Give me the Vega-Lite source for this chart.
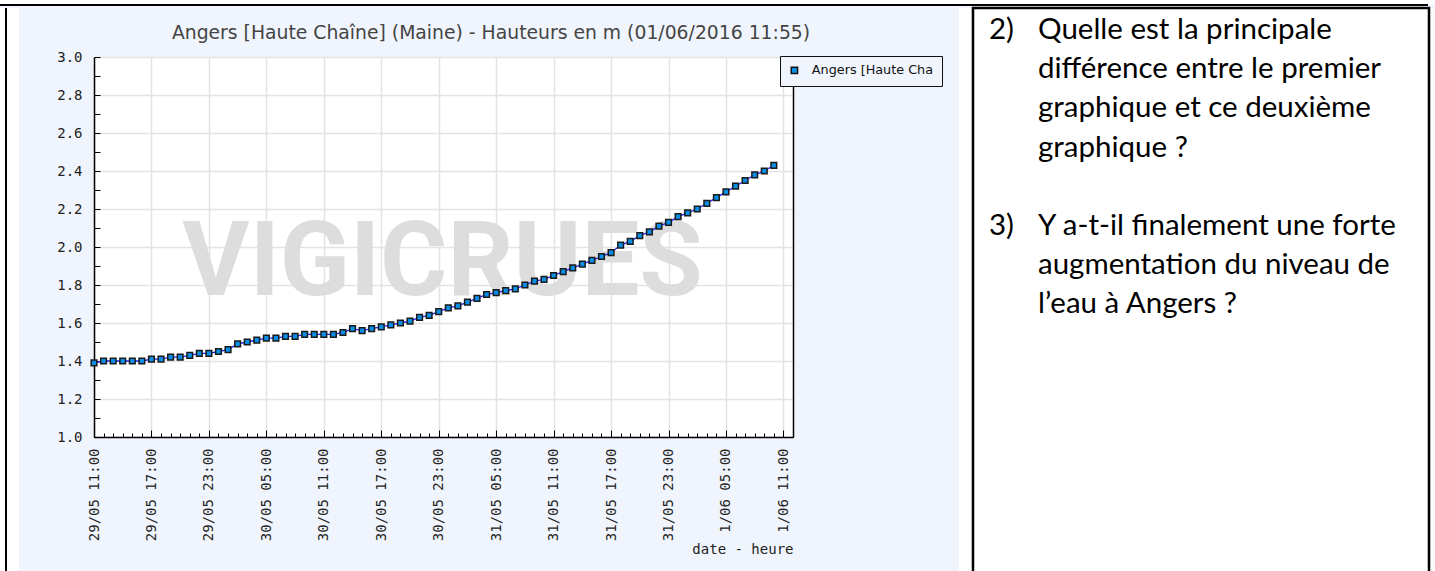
{
  "$schema": "https://vega.github.io/schema/vega-lite/v6.json",
  "padding": 0,
  "background": "#F0F5FD",
  "spacing": 0,
  "config": {"view": {"stroke": null}},
  "vconcat": [
    {"width": 1435, "height": 4, "data": {"values": []}, "mark": "text", "encoding": {}, "view": {"fill": "#ffffff", "stroke": null}},
    {"width": 1428, "height": 2, "data": {"values": []}, "mark": "text", "encoding": {}, "view": {"fill": "#000000", "stroke": null}},
    {
      "spacing": 0,
      "hconcat": [
        {"width": 5, "height": 565, "data": {"values": []}, "mark": "text", "encoding": {}, "view": {"fill": "#ffffff", "stroke": null}},
        {"width": 2, "height": 565, "data": {"values": []}, "mark": "text", "encoding": {}, "view": {"fill": "#000000", "stroke": null}},
        {"width": 12, "height": 565, "data": {"values": []}, "mark": "text", "encoding": {}, "view": {"fill": "#ffffff", "stroke": null}},
        {
          "spacing": 0,
          "vconcat": [
            {
              "width": 794, "height": 42,
              "data": {"values": [{}]},
              "view": {"stroke": null},
              "mark": {"type": "text", "font": "DejaVu Sans", "fontSize": 18.8, "color": "#444444", "align": "center", "baseline": "middle", "dy": 4},
              "encoding": {"text": {"value": "Angers [Haute Chaîne] (Maine) - Hauteurs en m (01/06/2016 11:55)"}}
            },
            {
              "width": 699,
              "height": 380,
              "view": {"fill": "#ffffff", "stroke": null},
              "data": {"values": [
                {"t": "2016-05-29T11:00:00Z", "h": 1.39}, {"t": "2016-05-29T12:00:00Z", "h": 1.40}, {"t": "2016-05-29T13:00:00Z", "h": 1.40},
                {"t": "2016-05-29T14:00:00Z", "h": 1.40}, {"t": "2016-05-29T15:00:00Z", "h": 1.40}, {"t": "2016-05-29T16:00:00Z", "h": 1.40},
                {"t": "2016-05-29T17:00:00Z", "h": 1.41}, {"t": "2016-05-29T18:00:00Z", "h": 1.41}, {"t": "2016-05-29T19:00:00Z", "h": 1.42},
                {"t": "2016-05-29T20:00:00Z", "h": 1.42}, {"t": "2016-05-29T21:00:00Z", "h": 1.43}, {"t": "2016-05-29T22:00:00Z", "h": 1.44},
                {"t": "2016-05-29T23:00:00Z", "h": 1.44}, {"t": "2016-05-30T00:00:00Z", "h": 1.45}, {"t": "2016-05-30T01:00:00Z", "h": 1.46},
                {"t": "2016-05-30T02:00:00Z", "h": 1.49}, {"t": "2016-05-30T03:00:00Z", "h": 1.50}, {"t": "2016-05-30T04:00:00Z", "h": 1.51},
                {"t": "2016-05-30T05:00:00Z", "h": 1.52}, {"t": "2016-05-30T06:00:00Z", "h": 1.52}, {"t": "2016-05-30T07:00:00Z", "h": 1.53},
                {"t": "2016-05-30T08:00:00Z", "h": 1.53}, {"t": "2016-05-30T09:00:00Z", "h": 1.54}, {"t": "2016-05-30T10:00:00Z", "h": 1.54},
                {"t": "2016-05-30T11:00:00Z", "h": 1.54}, {"t": "2016-05-30T12:00:00Z", "h": 1.54}, {"t": "2016-05-30T13:00:00Z", "h": 1.55},
                {"t": "2016-05-30T14:00:00Z", "h": 1.57}, {"t": "2016-05-30T15:00:00Z", "h": 1.56}, {"t": "2016-05-30T16:00:00Z", "h": 1.57},
                {"t": "2016-05-30T17:00:00Z", "h": 1.58}, {"t": "2016-05-30T18:00:00Z", "h": 1.59}, {"t": "2016-05-30T19:00:00Z", "h": 1.60},
                {"t": "2016-05-30T20:00:00Z", "h": 1.61}, {"t": "2016-05-30T21:00:00Z", "h": 1.63}, {"t": "2016-05-30T22:00:00Z", "h": 1.64},
                {"t": "2016-05-30T23:00:00Z", "h": 1.66}, {"t": "2016-05-31T00:00:00Z", "h": 1.68}, {"t": "2016-05-31T01:00:00Z", "h": 1.69},
                {"t": "2016-05-31T02:00:00Z", "h": 1.71}, {"t": "2016-05-31T03:00:00Z", "h": 1.73}, {"t": "2016-05-31T04:00:00Z", "h": 1.75},
                {"t": "2016-05-31T05:00:00Z", "h": 1.76}, {"t": "2016-05-31T06:00:00Z", "h": 1.77}, {"t": "2016-05-31T07:00:00Z", "h": 1.78},
                {"t": "2016-05-31T08:00:00Z", "h": 1.80}, {"t": "2016-05-31T09:00:00Z", "h": 1.82}, {"t": "2016-05-31T10:00:00Z", "h": 1.83},
                {"t": "2016-05-31T11:00:00Z", "h": 1.85}, {"t": "2016-05-31T12:00:00Z", "h": 1.87}, {"t": "2016-05-31T13:00:00Z", "h": 1.89},
                {"t": "2016-05-31T14:00:00Z", "h": 1.91}, {"t": "2016-05-31T15:00:00Z", "h": 1.93}, {"t": "2016-05-31T16:00:00Z", "h": 1.95},
                {"t": "2016-05-31T17:00:00Z", "h": 1.97}, {"t": "2016-05-31T18:00:00Z", "h": 2.01}, {"t": "2016-05-31T19:00:00Z", "h": 2.03},
                {"t": "2016-05-31T20:00:00Z", "h": 2.06}, {"t": "2016-05-31T21:00:00Z", "h": 2.08}, {"t": "2016-05-31T22:00:00Z", "h": 2.11},
                {"t": "2016-05-31T23:00:00Z", "h": 2.13}, {"t": "2016-06-01T00:00:00Z", "h": 2.16}, {"t": "2016-06-01T01:00:00Z", "h": 2.18},
                {"t": "2016-06-01T02:00:00Z", "h": 2.20}, {"t": "2016-06-01T03:00:00Z", "h": 2.23}, {"t": "2016-06-01T04:00:00Z", "h": 2.26},
                {"t": "2016-06-01T05:00:00Z", "h": 2.29}, {"t": "2016-06-01T06:00:00Z", "h": 2.32}, {"t": "2016-06-01T07:00:00Z", "h": 2.35},
                {"t": "2016-06-01T08:00:00Z", "h": 2.38}, {"t": "2016-06-01T09:00:00Z", "h": 2.40}, {"t": "2016-06-01T10:00:00Z", "h": 2.43}
              ]},
              "layer": [
                {
                  "data": {"values": [{}]},
                  "mark": {"type": "text", "font": "Roboto", "fontWeight": "bold", "fontSize": 103, "color": "#dddddd", "align": "center", "baseline": "alphabetic"},
                  "encoding": {
                    "x": {"datum": 1464650640000, "type": "temporal",
                          "scale": {"type": "utc", "domain": [1464519600000, 1464782400000], "nice": false},
                          "axis": {"orient": "bottom", "title": null, "labels": false, "domain": false, "grid": false,
                                   "values": [1464519600000, 1464523200000, 1464526800000, 1464530400000, 1464534000000, 1464537600000, 1464541200000, 1464544800000, 1464548400000, 1464552000000, 1464555600000, 1464559200000, 1464562800000, 1464566400000, 1464570000000, 1464573600000, 1464577200000, 1464580800000, 1464584400000, 1464588000000, 1464591600000, 1464595200000, 1464598800000, 1464602400000, 1464606000000, 1464609600000, 1464613200000, 1464616800000, 1464620400000, 1464624000000, 1464627600000, 1464631200000, 1464634800000, 1464638400000, 1464642000000, 1464645600000, 1464649200000, 1464652800000, 1464656400000, 1464660000000, 1464663600000, 1464667200000, 1464670800000, 1464674400000, 1464678000000, 1464681600000, 1464685200000, 1464688800000, 1464692400000, 1464696000000, 1464699600000, 1464703200000, 1464706800000, 1464710400000, 1464714000000, 1464717600000, 1464721200000, 1464724800000, 1464728400000, 1464732000000, 1464735600000, 1464739200000, 1464742800000, 1464746400000, 1464750000000, 1464753600000, 1464757200000, 1464760800000, 1464764400000, 1464768000000, 1464771600000, 1464775200000, 1464778800000, 1464782400000],
                                   "tickSize": -4, "tickColor": "#000000", "tickWidth": 1}},
                    "y": {"datum": 1.745, "type": "quantitative",
                          "scale": {"domain": [1, 3], "nice": false, "zero": false},
                          "axis": {"orient": "left", "title": null, "labels": false, "domain": false, "grid": false,
                                   "values": [1.1, 1.3, 1.5, 1.7, 1.9, 2.1, 2.3, 2.5, 2.7, 2.9],
                                   "tickSize": -6, "tickColor": "#000000", "tickWidth": 1}},
                    "text": {"value": "VIGICRUES"}
                  }
                },
                {
                  "mark": {"type": "line", "color": "#1f1fff", "strokeWidth": 1.3},
                  "encoding": {
                    "x": {"field": "t", "type": "temporal",
                          "scale": {"type": "utc", "domain": [1464519600000, 1464782400000], "nice": false},
                          "axis": {
                            "orient": "bottom", "title": "date - heure",
                            "titleFont": "DejaVu Sans Mono", "titleFontSize": 14, "titleFontWeight": "normal", "titleColor": "#222222", "titleAnchor": "end", "titlePadding": 2,
                            "values": [1464519600000, 1464541200000, 1464562800000, 1464584400000, 1464606000000, 1464627600000, 1464649200000, 1464670800000, 1464692400000, 1464714000000, 1464735600000, 1464757200000, 1464778800000],
                            "labelExpr": "utcFormat(datum.value, '%-d/%m %H:%M')",
                            "labelAngle": 270, "labelFont": "DejaVu Sans Mono", "labelFontSize": 14, "labelColor": "#222222",
                            "labelPadding": 18, "labelOverlap": false, "labelFlush": false, "labelBound": false,
                            "tickSize": -7, "tickColor": "#000000", "tickWidth": 1,
                            "domainColor": "#000000", "domainWidth": 1.5,
                            "grid": true, "gridColor": "#e3e3e3", "gridWidth": 1.5
                          }},
                    "y": {"field": "h", "type": "quantitative",
                          "scale": {"domain": [1, 3], "nice": false, "zero": false},
                          "axis": {
                            "orient": "left", "title": null,
                            "values": [1.0, 1.2, 1.4, 1.6, 1.8, 2.0, 2.2, 2.4, 2.6, 2.8, 3.0],
                            "format": ".1f",
                            "labelFont": "DejaVu Sans Mono", "labelFontSize": 14, "labelColor": "#222222", "labelPadding": 18,
                            "labelOverlap": false, "labelFlush": false,
                            "tickSize": -6, "tickColor": "#000000", "tickWidth": 1,
                            "domainColor": "#000000", "domainWidth": 1.5,
                            "grid": true, "gridColor": "#e3e3e3", "gridWidth": 1.5,
                            "minExtent": 75, "titlePadding": 0
                          }}
                  }
                },
                {
                  "mark": {"type": "point", "shape": "square", "filled": true, "size": 32, "stroke": "#1a1a1a", "strokeWidth": 1.5, "opacity": 1},
                  "encoding": {
                    "x": {"field": "t", "type": "temporal", "axis": null,
                          "scale": {"type": "utc", "domain": [1464519600000, 1464782400000], "nice": false}},
                    "y": {"field": "h", "type": "quantitative",
                          "scale": {"domain": [1, 3], "nice": false, "zero": false},
                          "axis": {"orient": "right", "title": null, "labels": false, "ticks": false, "grid": false,
                                   "domainColor": "#000000", "domainWidth": 1.5, "minExtent": 166, "titlePadding": 0}},
                    "color": {"datum": "Angers [Haute Chaîne]", "type": "nominal",
                              "scale": {"range": ["#0a8fe6"]},
                              "legend": {
                                "orient": "none", "legendX": 780, "legendY": 56, "title": null, "padding": 8,
                                "fillColor": "#F0F5FD", "strokeColor": "#111111",
                                "symbolType": "square", "symbolSize": 40, "symbolStrokeColor": "#111111", "symbolStrokeWidth": 1.5,
                                "labelFont": "DejaVu Sans", "labelFontSize": 12.8, "labelColor": "#111111", "labelOffset": 11,
                                "labelExpr": "substring(datum.label, 0, 17) + '  '", "labelLimit": 300
                              }}
                  }
                }
              ],
              "resolve": {"axis": {"x": "independent", "y": "independent"}}
            }
          ]
        },
        {"width": 12, "height": 565, "data": {"values": []}, "mark": "text", "encoding": {}, "view": {"fill": "#ffffff", "stroke": null}},
        {
          "width": 456,
          "height": 565,
          "view": {"fill": "#ffffff", "stroke": "#000000", "strokeWidth": 2.5},
          "data": {"values": [
            {"row": 0, "col": 0, "text": "2)"},
            {"row": 0, "col": 1, "text": "Quelle est la principale"},
            {"row": 1, "col": 1, "text": "différence entre le premier"},
            {"row": 2, "col": 1, "text": "graphique et ce deuxième"},
            {"row": 3, "col": 1, "text": "graphique ?"},
            {"row": 5, "col": 0, "text": "3)"},
            {"row": 5, "col": 1, "text": "Y a-t-il finalement une forte"},
            {"row": 6, "col": 1, "text": "augmentation du niveau de"},
            {"row": 7, "col": 1, "text": "l’eau à Angers ?"}
          ]},
          "mark": {"type": "text", "align": "left", "baseline": "alphabetic", "font": "Lato", "fontSize": 29.5, "color": "#000000"},
          "encoding": {
            "x": {"field": "col", "type": "quantitative", "axis": null, "scale": {"domain": [-0.3265, 8.98], "nice": false, "zero": false}},
            "y": {"field": "row", "type": "quantitative", "axis": null, "scale": {"domain": [-0.791, 13.622], "reverse": true, "nice": false, "zero": false}},
            "text": {"field": "text"}
          }
        },
        {"width": 4, "height": 565, "data": {"values": []}, "mark": "text", "encoding": {}, "view": {"fill": "#ffffff", "stroke": null}}
      ]
    }
  ]
}
